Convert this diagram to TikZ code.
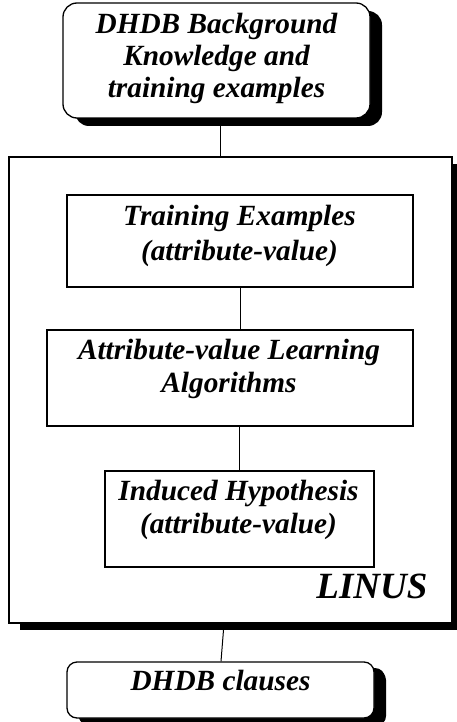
\documentclass[tikz,border=0pt]{standalone}
\usepackage{fontspec}
\setmainfont{Liberation Serif}
\usetikzlibrary{shadows,calc}
\tikzset{
  every picture/.style={line width=1pt},
  roundbox/.style={draw, fill=white, line width=1.3pt, rounded corners=14pt, inner sep=0pt,
    drop shadow={shadow xshift=12pt, shadow yshift=-8pt, opacity=1, fill=black}},
  framebox/.style={draw, fill=white, line width=1.3pt, inner sep=0pt,
    drop shadow={shadow xshift=11pt, shadow yshift=-7pt, opacity=1, fill=black}},
  stepbox/.style={draw, line width=1.3pt, inner sep=0pt},
  boxtext/.style={font=\fontsize{29.3}{33}\selectfont\bfseries\itshape, align=center, inner sep=0pt}
}

\begin{document}
\begin{tikzpicture}[x=1pt, y=-1pt]
    \useasboundingbox (0,0) rectangle (456,722);

    % input: background knowledge
    \node[roundbox, minimum width=307pt, minimum height=115pt] (source) at (216.5,60.5) {};
    \node[boxtext, font=\fontsize{29.3}{32}\selectfont\bfseries\itshape, anchor=north] (sourcelab) at (216.5,13)
        {DHDB Background\\Knowledge and\\training examples};

    % the LINUS frame
    \node[framebox, minimum width=443pt, minimum height=466pt] (linus) at (230.5,390) {};
    \node[font=\fontsize{37}{37}\selectfont\bfseries\itshape, inner sep=0pt, anchor=base east] (linuslab) at (428,598) {LINUS};

    % steps inside the frame
    \node[stepbox, minimum width=346pt, minimum height=92pt] (train) at (240,241) {};
    \node[boxtext, font=\fontsize{29.3}{35}\selectfont\bfseries\itshape, anchor=north] (trainlab) at (239.5,205)
        {Training Examples\\(attribute-value)};

    \node[stepbox, minimum width=366pt, minimum height=96pt] (learn) at (230,378) {};
    \node[boxtext, anchor=north] (learnlab) at (229,339) {Attribute-value Learning\\Algorithms};

    \node[stepbox, minimum width=269pt, minimum height=96pt] (induce) at (239.5,519) {};
    \node[boxtext, anchor=north] (inducelab) at (238.5,480) {Induced Hypothesis\\(attribute-value)};

    % output
    \node[roundbox, rounded corners=10pt, drop shadow={shadow xshift=11pt, shadow yshift=-6pt, opacity=1, fill=black},
        minimum width=307pt, minimum height=56pt] (clauses) at (220.5,690) {};
    \node[boxtext, anchor=base] (clauseslab) at (220.5,690) {DHDB clauses};

    % connectors
    \draw ([xshift=3.5pt]source.south) -- ([xshift=3.5pt]source.south |- linus.north);
    \draw (train.south) -- (train.south |- learn.north);
    \draw (induce.north |- learn.south) -- (induce.north);
    \draw ([xshift=-6.5pt]linus.south) -- ([xshift=0.5pt]clauses.north);
\end{tikzpicture}
\end{document}
